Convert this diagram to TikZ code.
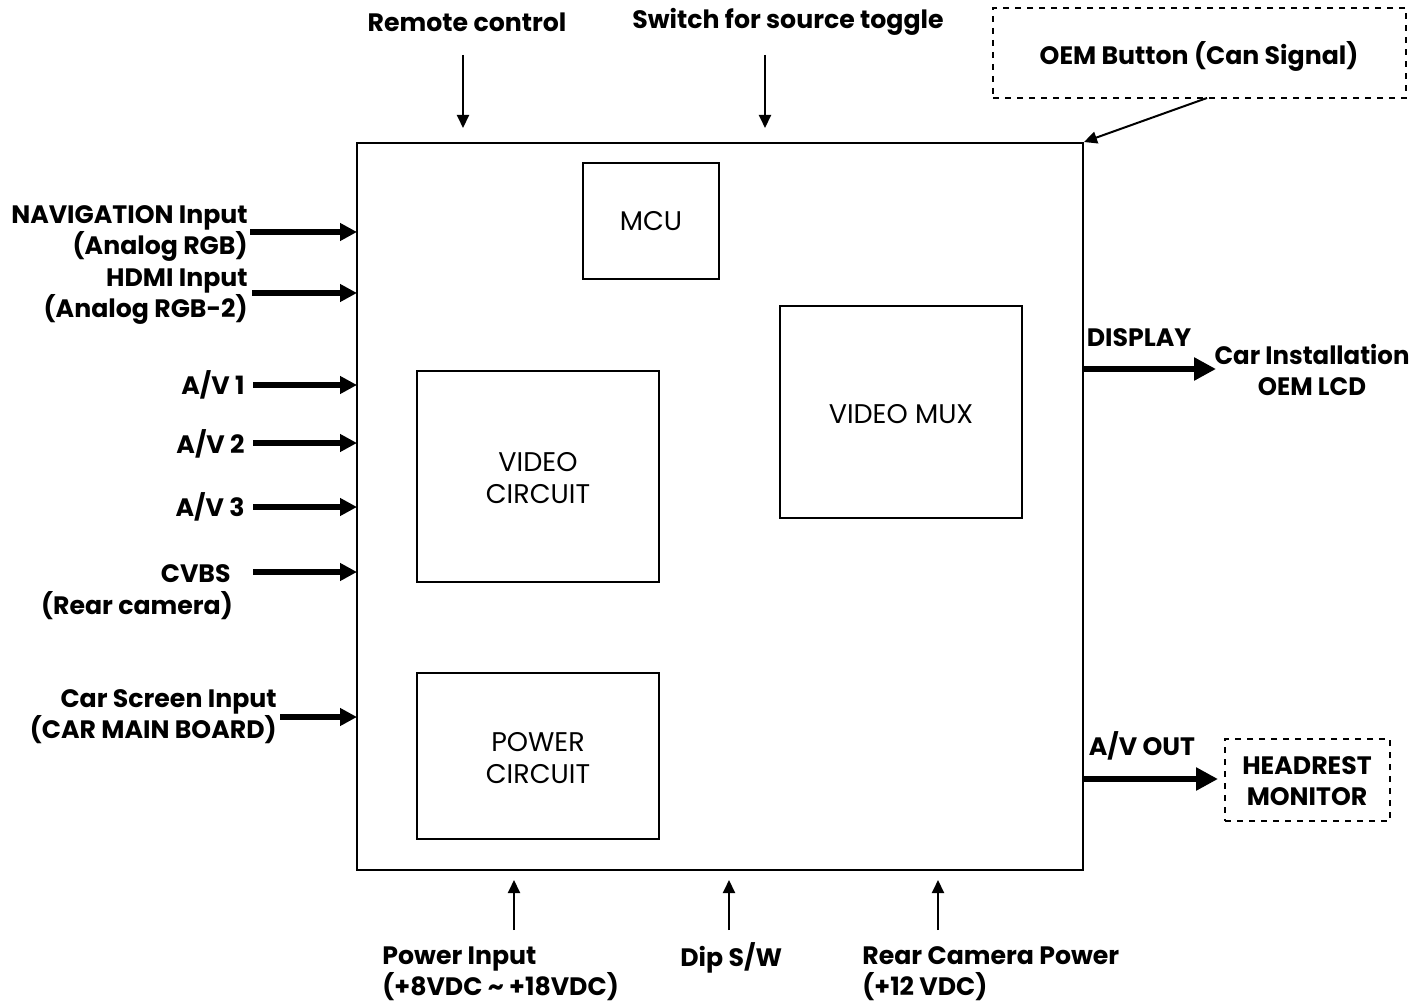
\documentclass[tikz,border=0pt]{standalone}
\usepackage{fontspec}
\setmainfont{Poppins}
\usetikzlibrary{arrows.meta}
\tikzset{
  blk/.style={draw, line width=1pt, inner sep=0pt},
  dbox/.style={draw, dashed, line width=0.8pt, inner sep=0pt},
  lbl/.style={font=\fontsize{12.6}{15.5}\selectfont\bfseries, inner sep=0pt, align=center},
  inlbl/.style={font=\fontsize{13.5}{16}\selectfont, inner sep=0pt, align=center},
  thin/.style={line width=1pt, -{Triangle[length=6.5pt,width=6pt]}},
  thick/.style={line width=2.6pt, -{Triangle[length=8.5pt,width=8.5pt]}},
  thickR/.style={line width=2.8pt, -{Triangle[length=11pt,width=11pt]}},
}
\begin{document}
\begin{tikzpicture}[x=0.5pt,y=-0.5pt]
\useasboundingbox (0,0) rectangle (1412,1005);
% main box
\node[blk, minimum width=363pt, minimum height=363.5pt] (main) at (720,506.5) {};
\node[blk, minimum width=68pt, minimum height=58pt] (mcu) at (651,221) {};
\node[inlbl] at (mcu.center) {MCU};
\node[blk, minimum width=121pt, minimum height=106pt] (mux) at (901,412) {};
\node[inlbl] at (901,414) {VIDEO MUX};
\node[blk, minimum width=121pt, minimum height=105.5pt] (vc) at (538,476.5) {};
\node[inlbl] at (538,478) {VIDEO\\CIRCUIT};
\node[blk, minimum width=121pt, minimum height=83pt] (pc) at (538,756) {};
\node[inlbl] at (538,758) {POWER\\CIRCUIT};

% top
\node[lbl] (rc) at (467,22) {Remote control};
\coordinate (rcs) at (463,55);
\coordinate (rce) at (463,128);
\draw[thin] (rcs) -- (rce);
\node[lbl] (sw) at (788,22) {Switch for source toggle};
\coordinate (sws) at (765,55);
\coordinate (swe) at (765,128);
\draw[thin] (sws) -- (swe);
\node[dbox, minimum width=206.5pt, minimum height=45pt] (oem) at (1199.5,53) {};
\node[lbl] at (1199,56) {OEM Button (Can Signal)};
\coordinate (oems) at (1207,98);
\draw[thin] (oems) -- (main.north east);

% left inputs
\node[lbl, align=right, anchor=east] (nav) at (248,233) {NAVIGATION Input\\(Analog RGB)};
\coordinate (navs) at (250,232); \coordinate (nave) at (357,232);
\draw[thick] (navs) -- (nave);
\node[lbl, align=right, anchor=east] (hdmi) at (248,297) {HDMI Input\\(Analog RGB-2)};
\coordinate (hdmis) at (252,293); \coordinate (hdmie) at (357,293);
\draw[thick] (hdmis) -- (hdmie);
\node[lbl, anchor=east] (av1) at (245,385) {A/V 1};
\coordinate (av1s) at (253,385); \coordinate (av1e) at (357,385);
\draw[thick] (av1s) -- (av1e);
\node[lbl, anchor=east] (av2) at (245,444) {A/V 2};
\coordinate (av2s) at (253,443); \coordinate (av2e) at (357,443);
\draw[thick] (av2s) -- (av2e);
\node[lbl, anchor=east] (av3) at (245,507) {A/V 3};
\coordinate (av3s) at (253,507); \coordinate (av3e) at (357,507);
\draw[thick] (av3s) -- (av3e);
\node[lbl, anchor=east] (cvbs) at (231,574) {CVBS};
\node[lbl] (rcam) at (137,606) {(Rear camera)};
\coordinate (cvs) at (253,572); \coordinate (cve) at (357,572);
\draw[thick] (cvs) -- (cve);
\node[lbl, align=right, anchor=east] (cs) at (277,717) {Car Screen Input\\(CAR MAIN BOARD)};
\coordinate (css) at (280,717); \coordinate (cse) at (357,717);
\draw[thick] (css) -- (cse);

% right outputs
\node[lbl] (disp) at (1139,338) {DISPLAY};
\node[lbl, xscale=0.97] (lcd) at (1312,370) {Car Installation\\OEM LCD};
\coordinate (ds) at (1083,369); \coordinate (de) at (1216,369);
\draw[thickR] (ds) -- (de);
\node[lbl] (avout) at (1142,746) {A/V OUT};
\node[dbox, minimum width=82.5pt, minimum height=41pt] (hr) at (1307.5,780) {};
\node[lbl] at (1307,781) {HEADREST\\MONITOR};
\coordinate (aos) at (1083,779); \coordinate (aoe) at (1218,779);
\draw[thickR] (aos) -- (aoe);

% bottom
\coordinate (p1s) at (514,930); \coordinate (p1e) at (514,880);
\draw[thin] (p1s) -- (p1e);
\coordinate (p2s) at (729,930); \coordinate (p2e) at (729,880);
\draw[thin] (p2s) -- (p2e);
\coordinate (p3s) at (938,930); \coordinate (p3e) at (938,880);
\draw[thin] (p3s) -- (p3e);
\node[lbl, align=left, anchor=west] (pin) at (382,974) {Power Input\\(+8VDC \textasciitilde{} +18VDC)};
\node[lbl, anchor=west] (dip) at (680,958) {Dip S/W};
\node[lbl, align=left, anchor=west] (rcp) at (862,974) {Rear Camera Power\\(+12 VDC)};
\end{tikzpicture}
\end{document}
